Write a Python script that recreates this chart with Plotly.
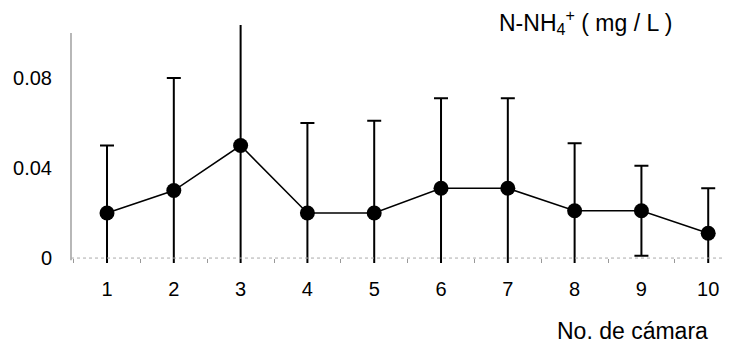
import plotly.graph_objects as go

chambers = [1, 2, 3, 4, 5, 6, 7, 8, 9, 10]
tick_labels = ["1", "2", "3", "4", "5", "6", "7", "8", "9", "10"]
nh4_mean = [0.020, 0.030, 0.050, 0.020, 0.020, 0.031, 0.031, 0.021, 0.021, 0.011]
nh4_err = [0.030, 0.050, 0.060, 0.040, 0.041, 0.040, 0.040, 0.030, 0.020, 0.020]
y_tickvals = [0, 0.04, 0.08]
y_ticktext = ["0", "0.04", "0.08"]

FONT = "Liberation Sans, Arial, sans-serif"

fig = go.Figure()
fig.add_trace(go.Scatter(
    x=chambers, y=nh4_mean,
    mode="lines+markers",
    line=dict(color="black", width=1.5),
    marker=dict(color="black", size=15),
    error_y=dict(type="data", array=nh4_err, visible=True,
                 color="black", thickness=2, width=7),
    showlegend=False,
))

# y axis line (0 .. 0.1)
fig.add_shape(type="line", xref="paper", yref="y", x0=0, x1=0, y0=-0.001, y1=0.1,
              line=dict(color="#888888", width=1.2))
# dotted baseline at y = 0
fig.add_shape(type="line", xref="paper", yref="y", x0=0, x1=0.99, y0=0, y1=0,
              line=dict(color="#aaaaaa", width=1, dash="dot"))

fig.add_annotation(text="N-NH<sub>4</sub><sup>+</sup> ( mg / L )",
                   xref="paper", yref="paper", x=0.6475, y=1.013,
                   xanchor="left", yanchor="middle", showarrow=False,
                   font=dict(family=FONT, size=23, color="black"))
fig.add_annotation(text="No. de cámara",
                   xref="paper", yref="paper", x=0.7356, y=-0.285,
                   xanchor="left", yanchor="middle", showarrow=False,
                   font=dict(family=FONT, size=23, color="black"))

fig.update_layout(
    width=738, height=345,
    margin=dict(l=71, r=9, t=25, b=82, autoexpand=False),
    paper_bgcolor="white", plot_bgcolor="white",
    font=dict(family=FONT, color="black"),
    xaxis=dict(range=[0.461, 10.311], tickvals=chambers, ticktext=tick_labels,
               showgrid=False, zeroline=False, showline=False, ticks="",
               anchor="free", position=0.021, automargin=False,
               tickfont=dict(size=20), ticklabelstandoff=17,
               minor=dict(tickmode="linear", tick0=0.5, dtick=1, ticks="outside",
                          ticklen=4, tickcolor="#999999", showgrid=False)),
    yaxis=dict(range=[-0.0022, 0.1036], tickvals=y_tickvals, ticktext=y_ticktext,
               showgrid=False, zeroline=False, showline=False, ticks="",
               automargin=False,
               tickfont=dict(size=20), ticklabelstandoff=18),
)

fig.write_html("out.html",
               config={"displayModeBar": False},
               post_script="document.body.style.margin='0';document.body.style.overflow='hidden';")
